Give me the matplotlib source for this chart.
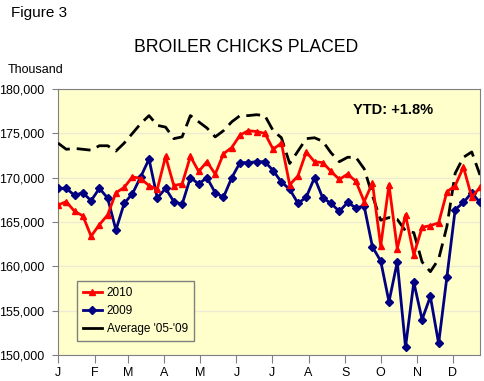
import matplotlib.pyplot as plt
from matplotlib.lines import Line2D

# weekly placements, thousand head
weeks = list(range(52))
y2010 = [166900, 167300, 166200, 165700, 163400, 164700, 165800, 168300, 168900, 170100,
         169900, 169100, 168700, 172400, 169100, 169300, 172400, 170700, 171800, 170400,
         172700, 173400, 174800, 175300, 175200, 175000, 173200, 173900, 169200, 170200,
         172900, 171800, 171700, 170700, 169800, 170400, 169600, 167300, 169400, 162300,
         169200, 162000, 165800, 161300, 164400, 164600, 164900, 168400, 169100, 171200,
         167800, 168900]
y2009 = [168800, 168800, 168000, 168300, 167400, 168800, 167700, 164100, 167100, 168200,
         170100, 172100, 167700, 168800, 167300, 167000, 170000, 169300, 170000, 168300,
         167800, 170000, 171700, 171700, 171800, 171800, 170800, 169500, 168700, 167100,
         167800, 170000, 167700, 167100, 166200, 167200, 166600, 166800, 162200, 160600,
         156000, 160500, 150900, 158200, 154000, 156600, 151300, 158800, 166400, 167200,
         168300, 167200]
avg0509 = [173900, 173200, 173300, 173200, 173100, 173600, 173600, 173000, 173900, 175000,
           176100, 177000, 175900, 175700, 174400, 174600, 177000, 176300, 175600, 174600,
           175300, 176300, 177000, 177000, 177100, 177000, 175300, 174500, 171600, 173000,
           174400, 174500, 174100, 172800, 171800, 172300, 172300, 171000, 168000, 165200,
           165500, 165300, 164000, 163800, 160500, 159400, 160800, 164500, 170500, 172300,
           172900, 170300]
months = ['J', 'F', 'M', 'A', 'M', 'J', 'J', 'A', 'S', 'O', 'N', 'D']
month_days = [0, 31, 59, 90, 120, 151, 181, 212, 243, 273, 304, 334]

plt.rcParams['font.family'] = ['Liberation Sans', 'DejaVu Sans']

days = [w * 7 for w in weeks]

fig = plt.figure(figsize=(4.85, 3.81), dpi=100)
ax = fig.add_axes([58 / 485, 26 / 381, 422 / 485, 266 / 381])
ax.set_facecolor('#FFFFCC')

ax.plot(days, avg0509, color='black', lw=2, dashes=(5, 2.5), zorder=3)
ax.plot(days, y2009, color='#000080', lw=2, marker='D', ms=4.5, zorder=4)
ax.plot(days, y2010, color='red', lw=2, marker='^', ms=5, zorder=5)

ax.set_xlim(0, 357)
ax.set_ylim(150000, 180000)
ax.set_yticks(range(150000, 180001, 5000))
ax.set_yticklabels(['{:,}'.format(v) for v in range(150000, 180001, 5000)], fontsize=9)
ax.set_xticks(month_days)
ax.set_xticklabels(months, fontsize=9)
ax.tick_params(axis='y', length=4, pad=6, color='#808080')
ax.tick_params(axis='x', length=6, pad=3, color='#808080')
ax.grid(axis='y', color='#ebebd5', lw=1)
ax.set_axisbelow(True)
for s in ax.spines.values():
    s.set_color('#808080')

handles = [Line2D([], [], color='red', lw=2, marker='^', ms=5),
           Line2D([], [], color='#000080', lw=2, marker='D', ms=4.5),
           Line2D([], [], color='black', lw=2)]
leg = ax.legend(handles, ['2010', '2009', "Average '05-'09"], loc='lower left',
                bbox_to_anchor=(0.045, 0.053), borderaxespad=0, fontsize=8.5,
                handlelength=1.6, handletextpad=0.4, labelspacing=0.5, fancybox=False,
                framealpha=1, facecolor='#FFFFCC', edgecolor='#808080', borderpad=0.5)
leg.get_frame().set_linewidth(1)

fig.text(11 / 485, 1 - 13 / 381, 'Figure 3', fontsize=11, ha='left', va='center')
fig.text(246 / 485, 1 - 47 / 381, 'BROILER CHICKS PLACED', fontsize=12.7, ha='center', va='center')
fig.text(8 / 485, 1 - 70 / 381, 'Thousand', fontsize=9, ha='left', va='center')
fig.text(393 / 485, 1 - 110 / 381, 'YTD: +1.8%', fontsize=10.5, fontweight='bold',
         ha='center', va='center')

fig.savefig('out.png', dpi=100)
